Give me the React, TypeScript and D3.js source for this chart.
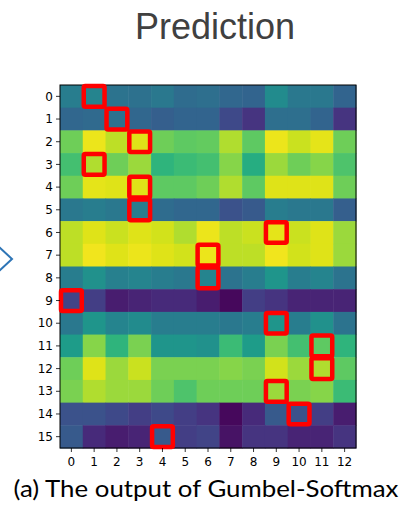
import React from "react";
import * as d3 from "d3";

// heatmap values (viridis 0..1), one row per y label
const rowLabels = d3.range(16).map(String);
const colLabels = d3.range(13).map(String);
const values: number[][] = [
  [0.42, 0.45, 0.38, 0.37, 0.4, 0.35, 0.36, 0.33, 0.32, 0.48, 0.4, 0.4, 0.32],
  [0.33, 0.34, 0.37, 0.33, 0.3, 0.32, 0.32, 0.22, 0.15, 0.36, 0.36, 0.32, 0.15],
  [0.78, 0.97, 0.9, 0.95, 0.78, 0.75, 0.76, 0.88, 0.75, 0.97, 0.92, 0.96, 0.78],
  [0.7, 0.88, 0.78, 0.85, 0.65, 0.68, 0.7, 0.82, 0.62, 0.85, 0.78, 0.82, 0.72],
  [0.78, 0.96, 0.95, 0.95, 0.75, 0.75, 0.78, 0.88, 0.75, 0.95, 0.95, 0.95, 0.78],
  [0.4, 0.42, 0.4, 0.42, 0.35, 0.33, 0.33, 0.25, 0.28, 0.42, 0.4, 0.4, 0.3],
  [0.9, 0.95, 0.92, 0.95, 0.93, 0.88, 0.97, 0.9, 0.92, 0.96, 0.92, 0.95, 0.85],
  [0.9, 0.98, 0.95, 0.97, 0.95, 0.93, 0.97, 0.9, 0.9, 0.98, 0.93, 0.95, 0.85],
  [0.42, 0.5, 0.43, 0.45, 0.42, 0.4, 0.45, 0.38, 0.42, 0.52, 0.42, 0.45, 0.38],
  [0.2, 0.18, 0.08, 0.1, 0.12, 0.12, 0.08, 0.02, 0.18, 0.15, 0.1, 0.1, 0.1],
  [0.4, 0.52, 0.45, 0.48, 0.42, 0.42, 0.42, 0.4, 0.42, 0.52, 0.42, 0.5, 0.38],
  [0.55, 0.82, 0.65, 0.8, 0.52, 0.52, 0.5, 0.68, 0.55, 0.8, 0.7, 0.75, 0.65],
  [0.78, 0.95, 0.85, 0.92, 0.8, 0.8, 0.8, 0.82, 0.8, 0.93, 0.85, 0.88, 0.75],
  [0.8, 0.88, 0.85, 0.85, 0.78, 0.72, 0.78, 0.78, 0.78, 0.85, 0.8, 0.82, 0.68],
  [0.25, 0.25, 0.22, 0.18, 0.22, 0.18, 0.15, 0.02, 0.12, 0.28, 0.25, 0.18, 0.08],
  [0.28, 0.12, 0.08, 0.1, 0.28, 0.18, 0.2, 0.05, 0.15, 0.15, 0.1, 0.1, 0.15],
];
// highlighted cell (column) for each row
const picked = [1, 2, 3, 1, 3, 3, 9, 6, 6, 0, 9, 11, 11, 9, 10, 4];

const W = 408;
const H = 518;
const left = 60;
const right = 356;
const top = 85;
const bottom = 448;

export default function App() {
  const x = d3.scaleBand<string>().domain(colLabels).range([left, right]);
  const y = d3.scaleBand<string>().domain(rowLabels).range([top, bottom]);
  const color = d3.scaleSequential(d3.interpolateViridis).domain([0, 1]);

  return (
    <svg
      width={W}
      height={H}
      style={{ position: "absolute", left: 0, top: 0, background: "#fff" }}
    >
      <text
        x={215}
        y={39}
        textAnchor="middle"
        fontFamily="Liberation Sans, Arial, sans-serif"
        fontSize={36}
        fill="#404040"
      >
        Prediction
      </text>

      {/* partial arrow at left edge */}
      <polyline
        points="-2,246 12,259 -2,272"
        fill="none"
        stroke="#2e75b6"
        strokeWidth={2}
      />

      {values.map((row, i) =>
        row.map((v, j) => (
          <rect
            key={`${i}-${j}`}
            x={x(colLabels[j])!}
            y={y(rowLabels[i])!}
            width={x.bandwidth() + 0.5}
            height={y.bandwidth() + 0.5}
            fill={color(v)}
          />
        ))
      )}

      <rect
        x={left}
        y={top}
        width={right - left}
        height={bottom - top}
        fill="none"
        stroke="#000"
        strokeWidth={1}
      />

      {picked.map((c, i) => (
        <rect
          key={`p${i}`}
          x={x(colLabels[c])! + 1}
          y={y(rowLabels[i])! + 1}
          width={x.bandwidth() - 2}
          height={y.bandwidth() - 2}
          fill="none"
          stroke="#ff0000"
          strokeWidth={4.5}
          rx={1.5}
        />
      ))}

      {rowLabels.map((r) => {
        const cy = y(r)! + y.bandwidth() / 2;
        return (
          <g key={`y${r}`}>
            <line x1={left - 4} x2={left} y1={cy} y2={cy} stroke="#000" strokeWidth={0.8} />
            <text
              x={left - 7}
              y={cy}
              dy="0.35em"
              textAnchor="end"
              fontFamily="DejaVu Sans, sans-serif"
              fontSize={12}
              fill="#000"
            >
              {r}
            </text>
          </g>
        );
      })}

      {colLabels.map((c) => {
        const cx = x(c)! + x.bandwidth() / 2;
        return (
          <g key={`x${c}`}>
            <line x1={cx} x2={cx} y1={bottom} y2={bottom + 4} stroke="#000" strokeWidth={0.8} />
            <text
              x={cx}
              y={bottom + 18}
              textAnchor="middle"
              fontFamily="DejaVu Sans, sans-serif"
              fontSize={12}
              fill="#000"
            >
              {c}
            </text>
          </g>
        );
      })}

      <text
        x={206}
        y={497}
        textAnchor="middle"
        fontFamily="Lato, Open Sans, sans-serif"
        fontSize={24}
        fill="#000"
        textLength={385}
        lengthAdjust="spacingAndGlyphs"
      >
        (a) The output of Gumbel-Softmax
      </text>
    </svg>
  );
}
